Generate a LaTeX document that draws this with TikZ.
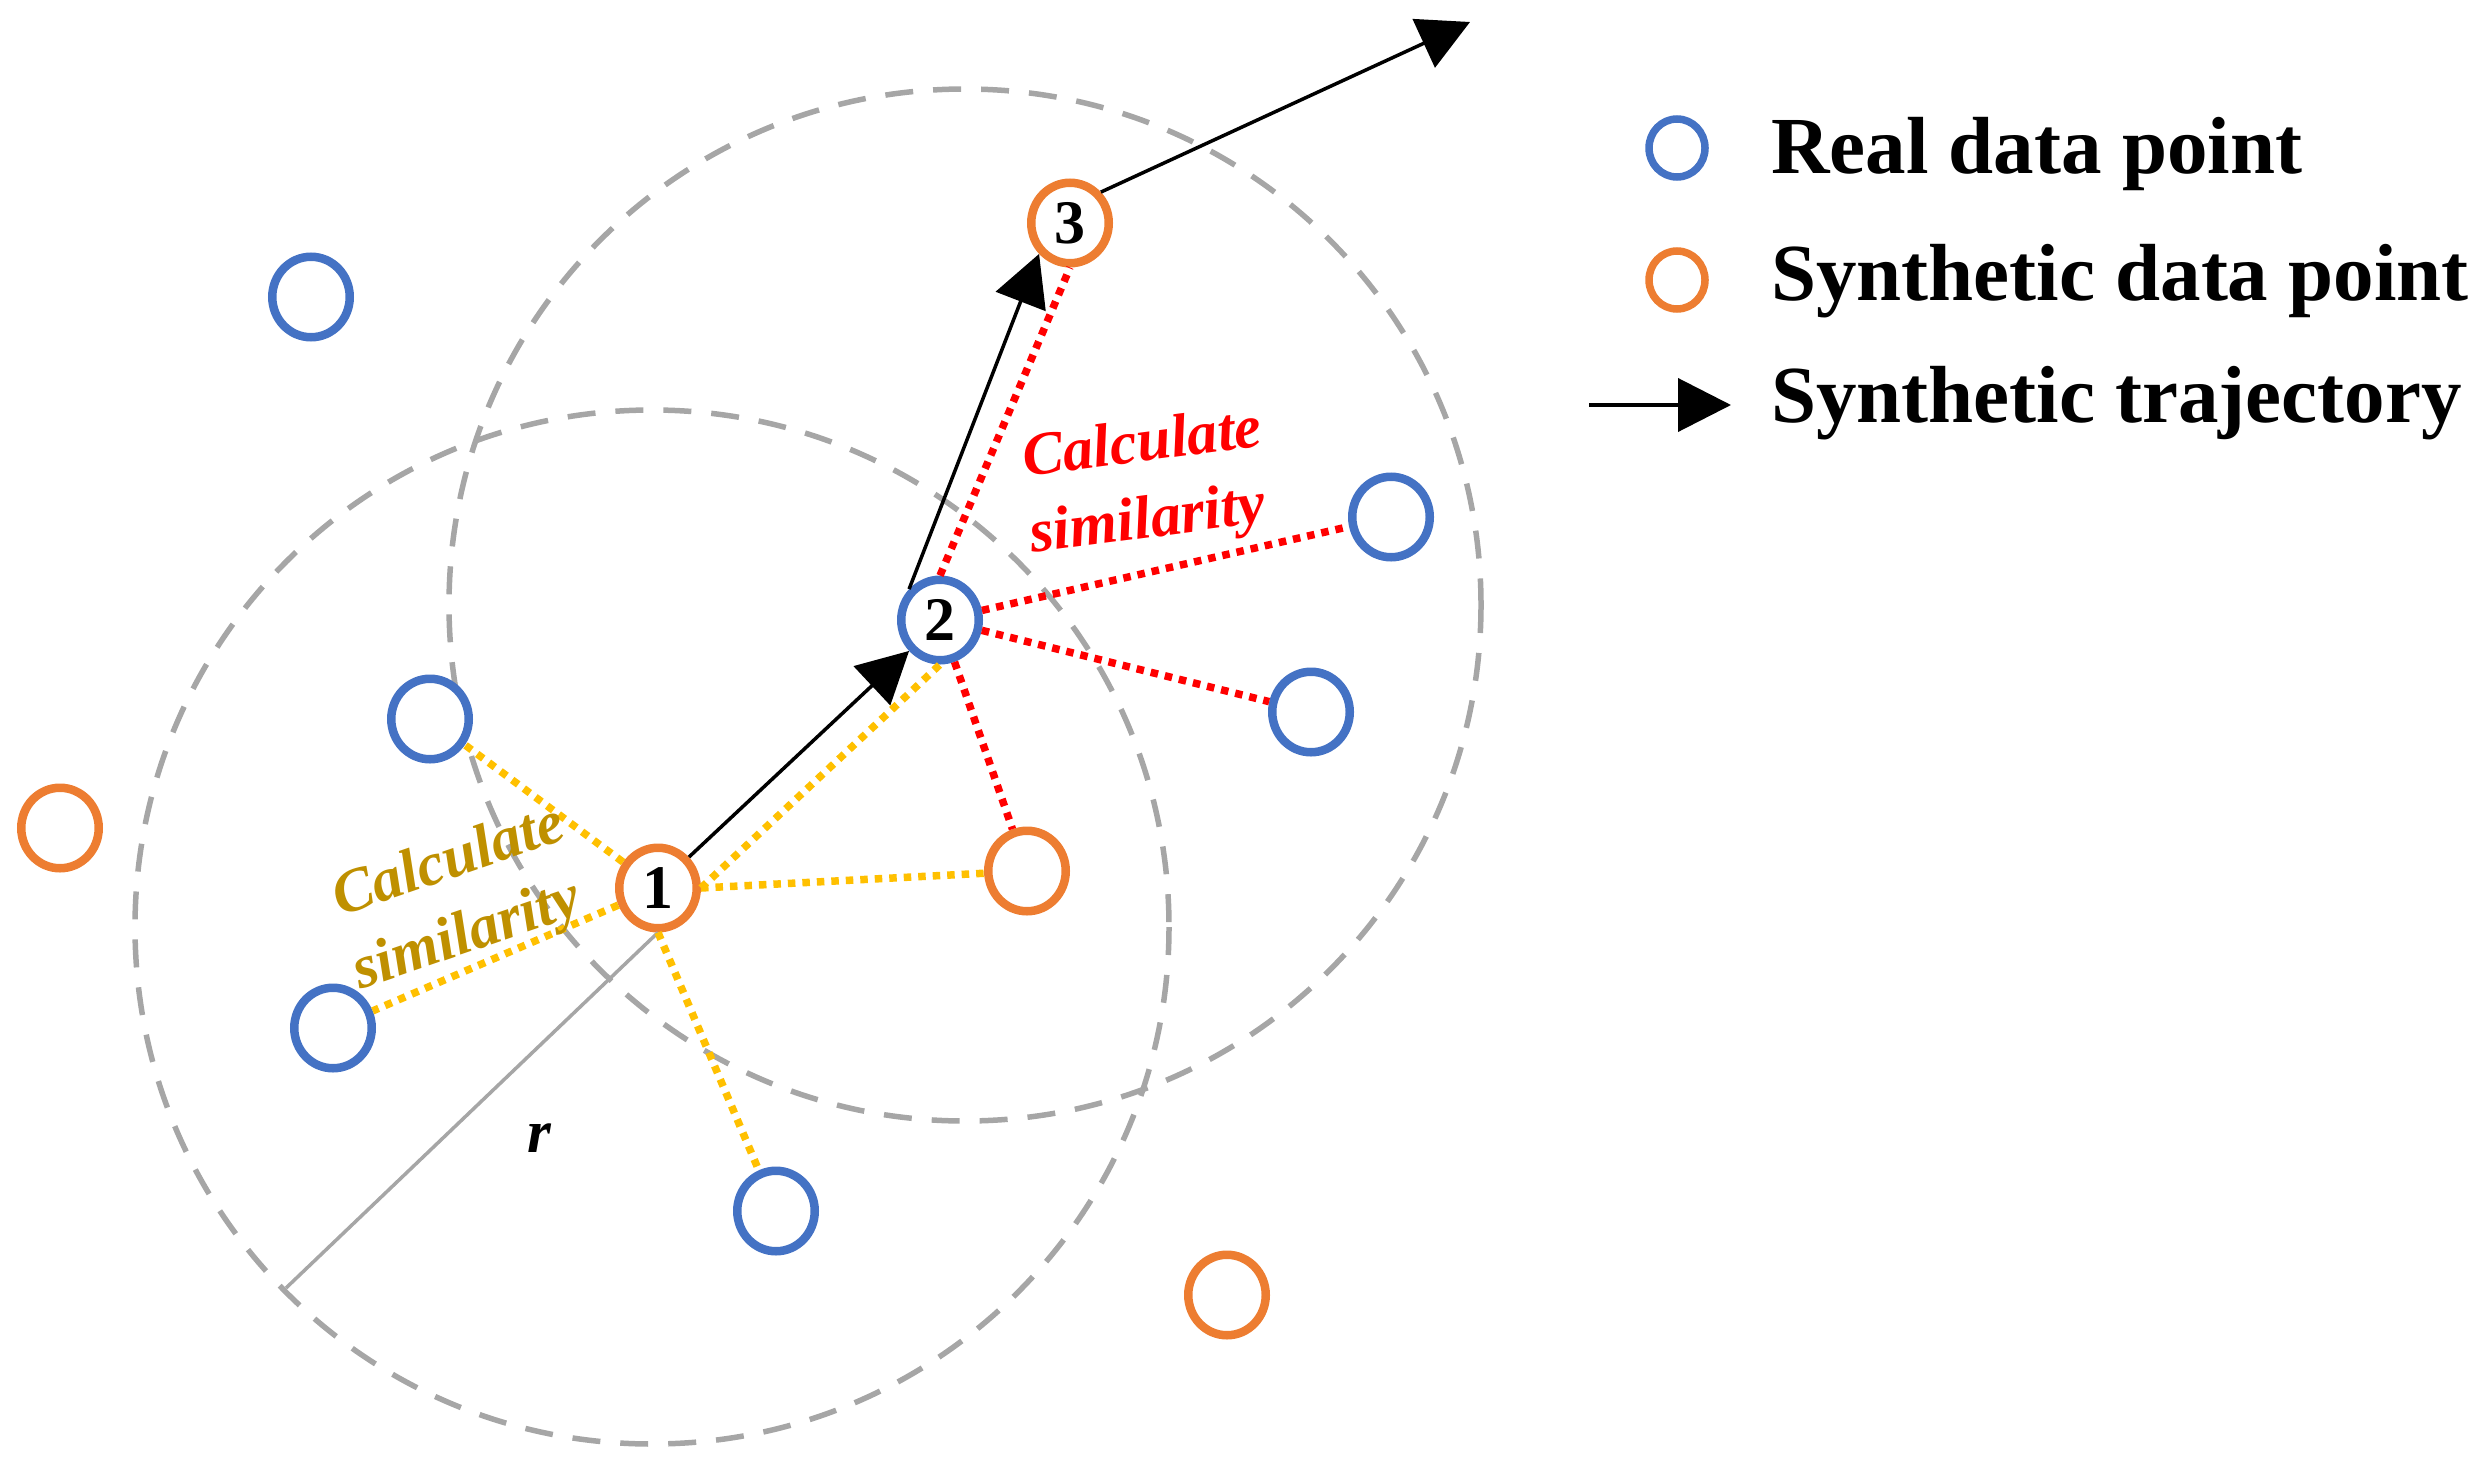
\documentclass[tikz,border=0pt]{standalone}
\usepackage{fontspec}
\setmainfont{Liberation Serif}
\usetikzlibrary{arrows.meta,shapes.geometric}
\definecolor{realblue}{HTML}{4472C4}
\definecolor{synorange}{HTML}{ED7D31}
\definecolor{simyellow}{HTML}{FFC000}
\definecolor{simgold}{HTML}{BF9000}
\definecolor{ringgray}{HTML}{A6A6A6}
\begin{document}
\begin{tikzpicture}[x=1pt,y=-1pt,
  pt/.style={ellipse, draw, line width=8.5pt, minimum width=77.5pt, minimum height=80.5pt, inner sep=0pt, fill=white},
  real/.style={pt, draw=realblue},
  syn/.style={pt, draw=synorange},
  num/.style={font=\fontsize{62}{62}\selectfont\bfseries},
  ring/.style={draw=ringgray, line width=5.5pt, dash pattern=on 28pt off 20pt},
  simY/.style={draw=simyellow, line width=7.5pt, dash pattern=on 7.5pt off 7pt},
  simR/.style={draw=red, line width=7.5pt, dash pattern=on 7.5pt off 7pt},
  traj/.style={draw=black, line width=3.5pt, -{Triangle[length=51pt,width=53pt]}},
  legarrow/.style={draw=black, line width=4pt, -{Triangle[length=53pt,width=53pt]}},
  radline/.style={draw=ringgray, line width=3.5pt},
  lbl/.style={font=\fontsize{61}{61}\selectfont\bfseries\itshape, inner sep=0pt, anchor=base west},
  legtext/.style={font=\fontsize{81}{81}\selectfont\bfseries, inner sep=0pt, anchor=base west},
  legpt/.style={ellipse, draw, line width=7.5pt, minimum width=56pt, minimum height=58pt, inner sep=0pt}
]
\useasboundingbox (0,0) rectangle (2488,1469);

% neighbourhood rings
\coordinate (c1) at (652,927);
\coordinate (c2) at (965,605);
\draw[ring] (c1) circle[radius=517];
\draw[ring] (c2) circle[radius=516];

% data points
\node[real] (b1) at (311,297) {};
\node[real] (b2) at (430,719) {};
\node[real] (b3) at (333,1028) {};
\node[real] (b4) at (776,1211) {};
\node[real] (b5) at (1311,712) {};
\node[real] (b6) at (1391,517) {};
\node[syn] (o1) at (60,828) {};
\node[syn] (o2) at (1027,871) {};
\node[syn] (o3) at (1227,1295) {};
\node[syn,num] (n1) at (658,888) {1};
\node[real,num] (n2) at (940,620) {2};
\node[syn,num] (n3) at (1070,223) {3};

% radius
\coordinate (rEnd) at (286,1288);
\draw[radline] (rEnd) -- (n1.south);

% similarity lines
\draw[simY] (n1) -- (b2);
\draw[simY] (n1) -- (b3);
\draw[simY] (n1.south) -- (b4);
\draw[simY] (n1.east) -- (o2);
\draw[simY] (n1.east) -- (n2.south);
\draw[simR] (n2.north) -- (n3.south);
\draw[simR] (n2) -- (b6);
\draw[simR] (n2) -- (b5);
\draw[simR] (n2) -- (o2);

% trajectory
\coordinate (tEnd) at (1470,22);
\draw[traj] (n1.45) -- (n2.225);
\draw[traj] (n2.135) -- (n3.225);
\draw[traj] (n3.45) -- (tEnd);

% labels
\node[lbl, text=red, rotate=7.5] (redA) at (1025,477) {Calculate};
\node[lbl, text=red, rotate=7.5] (redB) at (1032,553) {similarity};
\node[lbl, text=simgold, rotate=19] (goldA) at (340,917) {Calculate};
\node[lbl, text=simgold, rotate=19] (goldB) at (360,990) {similarity};
\node[lbl, anchor=base] (rlab) at (539,1152) {r};

% legend
\node[legpt, draw=realblue] (lg1) at (1677,148) {};
\node[legpt, draw=synorange] (lg2) at (1677,280) {};
\coordinate (la) at (1589,405);
\coordinate (lb) at (1731,405);
\draw[legarrow] (la) -- (lb);
\node[legtext] (lt1) at (1771,173) {Real data point};
\node[legtext] (lt2) at (1771,300) {Synthetic data point};
\node[legtext] (lt3) at (1771,422) {Synthetic trajectory};
\end{tikzpicture}
\end{document}
